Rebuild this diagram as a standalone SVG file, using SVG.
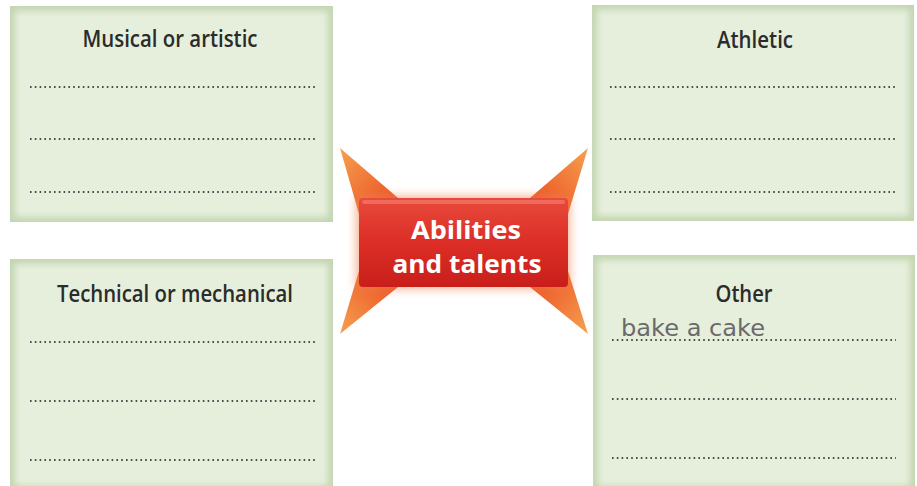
<svg xmlns="http://www.w3.org/2000/svg" width="917" height="486" viewBox="0 0 917 486">
<defs>
<filter id="soft" x="-5%" y="-5%" width="110%" height="110%"><feGaussianBlur stdDeviation="3"/></filter>
<filter id="glow" x="-20%" y="-30%" width="140%" height="160%"><feGaussianBlur stdDeviation="5"/></filter>
<linearGradient id="red" x1="0" y1="0" x2="0" y2="1">
<stop offset="0" stop-color="#e84a3c"/><stop offset="0.5" stop-color="#dc2e26"/><stop offset="1" stop-color="#c81e1a"/>
</linearGradient>
<linearGradient id="spUL" x1="0" y1="0" x2="1" y2="1"><stop offset="0" stop-color="#f6a050"/><stop offset="1" stop-color="#ea4a1e"/></linearGradient>
<linearGradient id="spUR" x1="1" y1="0" x2="0" y2="1"><stop offset="0" stop-color="#f6a050"/><stop offset="1" stop-color="#ea4a1e"/></linearGradient>
<linearGradient id="spLL" x1="0" y1="1" x2="1" y2="0"><stop offset="0" stop-color="#f6a050"/><stop offset="1" stop-color="#ea4a1e"/></linearGradient>
<linearGradient id="spLR" x1="1" y1="1" x2="0" y2="0"><stop offset="0" stop-color="#f6a050"/><stop offset="1" stop-color="#ea4a1e"/></linearGradient>
<style>
.frame{fill:#c3d6b2}
.panel{fill:#e6efdc}
.title{font-family:"Open Sans","DejaVu Sans",sans-serif;font-weight:600;font-size:23px;fill:#2b2b2b;text-anchor:middle}
.dots{stroke:#4a4a4a;stroke-width:2;stroke-dasharray:1.6 3.2;fill:none}
.center{font-family:"Open Sans","DejaVu Sans",sans-serif;font-weight:700;font-size:25px;fill:#ffffff;text-anchor:middle}
.hand{font-family:"DejaVu Sans",sans-serif;font-size:23px;fill:#6a6a6a}
</style>
</defs>
<rect width="917" height="486" fill="#ffffff"/>

<g id="node-musical">
<rect class="frame" x="10" y="6" width="323" height="216"/>
<rect class="panel" x="15" y="11" width="313" height="206" filter="url(#soft)"/>
<text class="title" x="170" y="47" textLength="175" lengthAdjust="spacingAndGlyphs">Musical or artistic</text>
<line class="dots" x1="30" y1="87" x2="316" y2="87"/>
<line class="dots" x1="30" y1="139" x2="316" y2="139"/>
<line class="dots" x1="30" y1="192" x2="316" y2="192"/>
</g>

<g id="node-athletic">
<rect class="frame" x="592" y="5" width="322" height="216"/>
<rect class="panel" x="597" y="10" width="312" height="206" filter="url(#soft)"/>
<text class="title" x="755" y="48" textLength="76" lengthAdjust="spacingAndGlyphs">Athletic</text>
<line class="dots" x1="610" y1="87" x2="896" y2="87"/>
<line class="dots" x1="610" y1="139" x2="896" y2="139"/>
<line class="dots" x1="610" y1="192" x2="896" y2="192"/>
</g>

<g id="node-technical">
<rect class="frame" x="10" y="259" width="323" height="227"/>
<rect class="panel" x="15" y="264" width="313" height="222" filter="url(#soft)"/>
<text class="title" x="175" y="302" textLength="236" lengthAdjust="spacingAndGlyphs">Technical or mechanical</text>
<line class="dots" x1="30" y1="342" x2="316" y2="342"/>
<line class="dots" x1="30" y1="401" x2="316" y2="401"/>
<line class="dots" x1="30" y1="460" x2="316" y2="460"/>
</g>

<g id="node-other">
<rect class="frame" x="593" y="255" width="322" height="231"/>
<rect class="panel" x="598" y="260" width="312" height="226" filter="url(#soft)"/>
<text class="title" x="744" y="302" textLength="57" lengthAdjust="spacingAndGlyphs">Other</text>
<text class="hand" x="621" y="336" textLength="144" lengthAdjust="spacingAndGlyphs">bake a cake</text>
<line class="dots" x1="612" y1="340" x2="896" y2="340"/>
<line class="dots" x1="612" y1="399" x2="896" y2="399"/>
<line class="dots" x1="612" y1="458" x2="896" y2="458"/>
</g>

<g id="connectors">
<polygon points="340,148 398,198 359,214" fill="url(#spUL)"/>
<polygon points="588,148 530,198 568,214" fill="url(#spUR)"/>
<polygon points="340,334 398,287 359,271" fill="url(#spLL)"/>
<polygon points="588,334 530,287 568,271" fill="url(#spLR)"/>
</g>

<g id="node-center">
<rect x="356" y="196" width="214" height="93" rx="4" fill="#f08050" opacity="0.6" filter="url(#glow)"/>
<rect x="359" y="198" width="209" height="89" rx="4" fill="url(#red)"/>
<rect x="362" y="200" width="203" height="4" rx="2" fill="#f27a6c" opacity="0.7"/>
<text class="center" x="466" y="239" textLength="110" lengthAdjust="spacingAndGlyphs">Abilities</text>
<text class="center" x="467" y="273" textLength="149" lengthAdjust="spacingAndGlyphs">and talents</text>
</g>
</svg>
